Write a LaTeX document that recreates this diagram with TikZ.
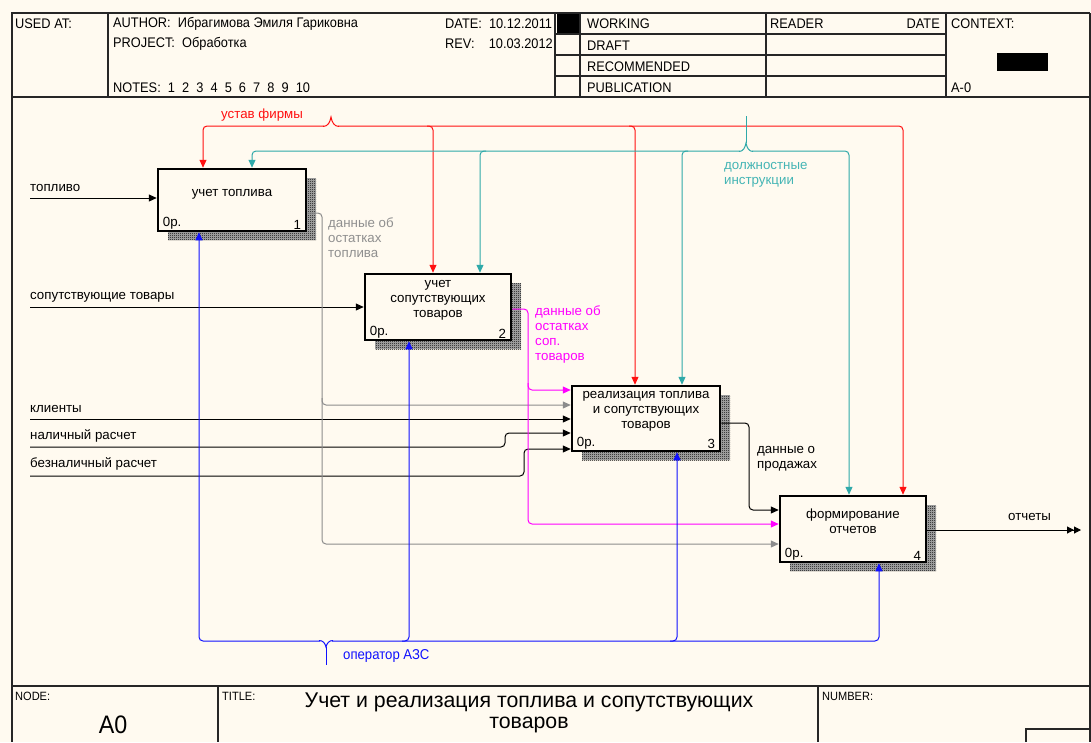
\documentclass[tikz,border=0pt]{standalone}
\usepackage{fontspec}
\setmainfont{Liberation Sans}
\newfontfamily\narrow{Liberation Sans}[FakeStretch=0.92]
\usetikzlibrary{arrows.meta,patterns}
\definecolor{bg}{HTML}{FFFAF0}
\definecolor{tealc}{HTML}{2FA9A9}
\definecolor{tealt}{HTML}{45B5B5}
\definecolor{grayc}{HTML}{8C8C8C}
\definecolor{grayt}{HTML}{8F8F8F}
\definecolor{magc}{HTML}{FF00FF}
\definecolor{redc}{HTML}{FF1010}
\definecolor{bluec}{HTML}{1010FF}
\pgfdeclarepatternformonly{checker}{\pgfqpoint{0pt}{0pt}}{\pgfqpoint{2pt}{2pt}}{\pgfqpoint{2pt}{2pt}}{%
  \pgfpathrectangle{\pgfqpoint{0pt}{0pt}}{\pgfqpoint{1pt}{1pt}}%
  \pgfpathrectangle{\pgfqpoint{1pt}{1pt}}{\pgfqpoint{1pt}{1pt}}%
  \pgfusepath{fill}}
\begin{document}
\begin{tikzpicture}[x=1pt,y=-1pt,
  every node/.style={inner sep=0pt},
  hdr/.style={font=\narrow\fontsize{13.9}{15}\selectfont, anchor=west},
  small/.style={font=\narrow\fontsize{12}{13}\selectfont, anchor=west},
  lbl/.style={font=\fontsize{13.3}{15}\selectfont, anchor=west, align=left},
  bt/.style={font=\fontsize{13.3}{15}\selectfont, align=center},
  box/.style={draw, line width=2.5pt, fill=bg},
  shadowbase/.style={fill=black!30},
  shadow/.style={pattern=checker, pattern color=black},
  arr/.style={line width=1pt, rounded corners=4pt, -{Triangle[length=8pt,width=7pt]}},
  dblarr/.style={line width=1pt, -{Triangle[length=7pt,width=7pt]Triangle[length=7pt,width=7pt]}},
  frame/.style={line width=1.3pt, draw=black!85}]

\fill[bg] (0,0) rectangle (1091,742);
\useasboundingbox (0,0) rectangle (1091,742);

% ---------- header ----------
\draw[frame] (1090,13) -- (12,13) -- (12,742);
\draw[frame] (1090,13) -- (1090,742);
\draw[frame] (12,97) -- (1091,97);
\foreach \x in {108,555,580,766,946} \draw[frame] (\x,13) -- (\x,97);
\foreach \y in {34,55,76} \draw[frame] (555,\y) -- (946,\y);
\fill[black] (557,14) rectangle (579,33);
\fill[black] (997,53) rectangle (1048,71);

\node[hdr] (usedat) at (15,23.5) {USED AT:};
\node[hdr] (author) at (113,23.5) {AUTHOR:\ \ Ибрагимова Эмиля Гариковна};
\node[hdr] (project) at (113,43.5) {PROJECT:\ \ Обработка};
\node[hdr] (notes) at (113,87.5) {NOTES:\ \ 1\ \ 2\ \ 3\ \ 4\ \ 5\ \ 6\ \ 7\ \ 8\ \ 9\ \ 10};
\node[hdr] (date) at (445,23.5) {DATE:\ \ 10.12.2011};
\node[hdr] (rev) at (445,43.5) {REV:\ \ \ \ 10.03.2012};
\node[hdr] (working) at (587,23.5) {WORKING};
\node[hdr] (draft) at (587,45.5) {DRAFT};
\node[hdr] (recomm) at (587,66.5) {RECOMMENDED};
\node[hdr] (public) at (587,87.5) {PUBLICATION};
\node[hdr] (reader) at (770,23.5) {READER};
\node[hdr, anchor=east] (rdate) at (940,23.5) {DATE};
\node[hdr] (context) at (951,23.5) {CONTEXT:};
\node[hdr] (actx) at (951,87.5) {A-0};

% ---------- footer ----------
\draw[frame] (12,686) -- (1091,686);
\draw[frame] (218,686) -- (218,742);
\draw[frame] (818,686) -- (818,742);
\draw[frame] (1026,742) -- (1026,729) -- (1091,729);
\node[small] (nodel) at (15,696) {NODE:};
\node[small] (titlel) at (222,696) {TITLE:};
\node[small] (numl) at (822,696) {NUMBER:};
\node[font=\narrow\fontsize{25.3}{26}\selectfont] (a0) at (113,725) {A0};
\node[font=\fontsize{21.3}{20.5}\selectfont, align=center] (title) at (529,713)
  {Учет и реализация топлива и сопутствующих\\товаров};

% ---------- boxes ----------
\foreach \sx/\sy/\ex/\ey in {168/178/316/240, 375/283/521/349, 582/395/730/460, 790/505/936/571}{
  \fill[shadowbase] (\sx,\sy) rectangle (\ex,\ey);
  \fill[shadow] (\sx,\sy) rectangle (\ex,\ey);
}
\node[box, minimum width=148pt, minimum height=62pt] (b1) at (232,200) {};
\node[box, minimum width=146pt, minimum height=66pt] (b2) at (438,307) {};
\node[box, minimum width=148pt, minimum height=65pt] (b3) at (646,418.5) {};
\node[box, minimum width=146pt, minimum height=66pt] (b4) at (853,529) {};

\node[bt] (b1t) at (232,194) {учет топлива};
\node[bt] (b2t) at (438,300.5) {учет\\сопутствующих\\товаров};
\node[bt] (b3t) at (646,411.5) {реализация топлива\\и сопутствующих\\товаров};
\node[bt] (b4t) at (853,521) {формирование\\отчетов};
\foreach \b/\n in {b1/1,b2/2,b3/3,b4/4}{
  \node[bt, anchor=south west] at ([shift={(6,-3)}]\b.south west) {0р.};
  \node[bt, anchor=south east] at ([shift={(-6,-3)}]\b.south east) {\n};
}

% ---------- inputs ----------
\draw[arr] (30,198) -- (b1.west |- 0,198);
\node[lbl] (in1) at (30,188) {топливо};
\draw[arr] (30,307) -- (b2.west |- 0,307);
\node[lbl] (in2) at (30,297) {сопутствующие товары};
\draw[arr] (30,419) -- (b3.west |- 0,419);
\node[lbl] (in3) at (30,409) {клиенты};
\draw[arr] (30,447) -- (505,447) -- (505,433) -- (b3.west |- 0,433);
\node[lbl] (in4) at (30,436) {наличный расчет};
\draw[arr] (30,476) -- (524,476) -- (524,449) -- (b3.west |- 0,449);
\node[lbl] (in5) at (30,464) {безналичный расчет};

% ---------- gray: данные об остатках топлива ----------
\draw[arr, grayc] (b1.east |- 0,213) -- (322,213) -- (322,544) -- (b4.west |- 0,544);
\draw[arr, grayc] (322,398) -- (322,405) -- (b3.west |- 0,405);
\node[lbl, text=grayt] (gl) at (328,238) {данные об\\остатках\\топлива};

% ---------- magenta ----------
\draw[arr, magc] (b2.east |- 0,309) -- (528,309) -- (528,524) -- (b4.west |- 0,524);
\draw[arr, magc] (528,383) -- (528,390) -- (b3.west |- 0,390);
\node[lbl, text=magc] (ml) at (535,334.5) {данные об\\остатках\\соп.\\товаров};

% ---------- sales data ----------
\draw[arr] (b3.east |- 0,423) -- (749,423) -- (749,510) -- (b4.west |- 0,510);
\node[lbl] (sl) at (757,458.5) {данные о\\продажах};

% ---------- output ----------
\draw[dblarr] (b4.east |- 0,530) -- (1081,530);
\node[lbl] (out) at (1008,517) {отчеты};

% ---------- red control: устав фирмы ----------
\draw[arr, redc] (324,126) -- (203,126) -- (b1.north -| 203,0);
\draw[arr, redc] (338,126) -- (903,126) -- (b4.north -| 903,0);
\draw[arr, redc] (427,126) -- (433,126) -- (b2.north -| 433,0);
\draw[arr, redc] (629,126) -- (635,126) -- (b3.north -| 635,0);
\draw[line width=1pt, redc] (323,126.5) .. controls (328,126.5) and (330,122) .. (331,117)
  .. controls (332,122) and (334,126.5) .. (339,126.5);
\node[lbl, text=redc] (rl) at (221,115) {устав фирмы};

% ---------- teal control: должностные инструкции ----------
\draw[arr, tealc] (740,151) -- (252,151) -- (b1.north -| 252,0);
\draw[arr, tealc] (752,151) -- (849,151) -- (b4.north -| 849,0);
\draw[arr, tealc] (486,151) -- (480,151) -- (b2.north -| 480,0);
\draw[arr, tealc] (688,151) -- (682,151) -- (b3.north -| 682,0);
\draw[line width=1pt, tealc] (739,151.5) .. controls (743,151.5) and (745,148) .. (746,143)
  .. controls (747,148) and (749,151.5) .. (753,151.5);
\draw[line width=1pt, tealc] (746,143) -- (746,116);
\node[lbl, text=tealt] (tl) at (724,175) {должностные\\инструкции};

% ---------- blue mechanism: оператор АЗС ----------
\draw[arr, bluec] (320,641) -- (199,641) -- (b1.south -| 199,0);
\draw[arr, bluec] (332,641) -- (879,641) -- (b4.south -| 879,0);
\draw[arr, bluec] (402,641) -- (409,641) -- (b2.south -| 409,0);
\draw[arr, bluec] (670,641) -- (677,641) -- (b3.south -| 677,0);
\draw[line width=1pt, bluec] (319,640.5) .. controls (323,640.5) and (325,643) .. (326,647)
  .. controls (327,643) and (329,640.5) .. (333,640.5);
\draw[line width=1pt, bluec] (326,647) -- (326,665);
\node[lbl, text=bluec, font=\narrow\fontsize{14.3}{15}\selectfont] (bl) at (343,656) {оператор АЗС};
\end{tikzpicture}
\end{document}
